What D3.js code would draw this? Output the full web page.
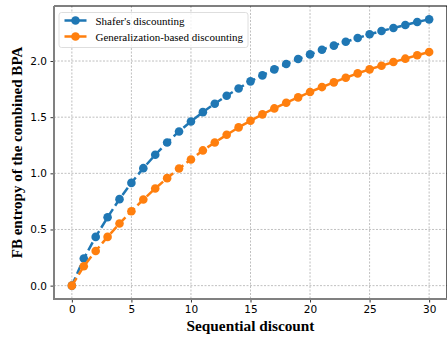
<!DOCTYPE html>
<html>
<head>
<meta charset="utf-8">
<script src="https://cdn.jsdelivr.net/npm/d3@7"></script>
<style>
  body { margin: 0; background: #fff; }
  svg { display: block; }
</style>
</head>
<body>
<script>
// Data
const steps = d3.range(0, 31);
const shafer = [0, 0.241, 0.434, 0.609, 0.770, 0.915, 1.046, 1.165, 1.275, 1.373, 1.462,
  1.545, 1.620, 1.691, 1.756, 1.819, 1.872, 1.926, 1.973, 2.018, 2.059,
  2.101, 2.137, 2.172, 2.205, 2.238, 2.267, 2.294, 2.321, 2.348, 2.371];
const generalization = [0, 0.172, 0.309, 0.434, 0.553, 0.663, 0.767, 0.865, 0.957, 1.043, 1.123,
  1.204, 1.275, 1.343, 1.409, 1.468, 1.525, 1.578, 1.629, 1.676, 1.724,
  1.768, 1.810, 1.851, 1.890, 1.926, 1.958, 1.991, 2.021, 2.051, 2.080];
const seriesNames = ["Shafer's discounting", 'Generalization-based discounting'];
const xTicks = [0, 5, 10, 15, 20, 25, 30];
const yTicks = [0, 0.5, 1.0, 1.5, 2.0];

const W = 447, H = 340;
const margin = { top: 6, right: 0, bottom: 41, left: 54 };
const width = W - margin.left - margin.right;
const height = H - margin.top - margin.bottom;

const svg = d3.select('body').append('svg')
  .attr('width', W)
  .attr('height', H);

const g = svg.append('g')
  .attr('transform', `translate(${margin.left},${margin.top})`);

const x = d3.scaleLinear().domain([-1.5, 31.5]).range([0, width]);
const y = d3.scaleLinear().domain([-0.119, 2.49]).range([height, 0]);

// grid
g.append('g').selectAll('line').data(xTicks).join('line')
  .attr('x1', d => x(d)).attr('x2', d => x(d))
  .attr('y1', 0).attr('y2', height)
  .attr('stroke', '#b0b0b0').attr('stroke-width', 0.8)
  .attr('stroke-dasharray', '2,1.5');
g.append('g').selectAll('line').data(yTicks).join('line')
  .attr('y1', d => y(d)).attr('y2', d => y(d))
  .attr('x1', 0).attr('x2', width)
  .attr('stroke', '#b0b0b0').attr('stroke-width', 0.8)
  .attr('stroke-dasharray', '2,1.5');

// series
const colors = ['#1f77b4', '#ff7f0e'];
const series = [shafer, generalization];
const line = d3.line().x((d, i) => x(steps[i])).y(d => y(d));

series.forEach((vals, k) => {
  g.append('path')
    .datum(vals)
    .attr('fill', 'none')
    .attr('stroke', colors[k])
    .attr('stroke-width', 2.5)
    .attr('stroke-dasharray', '9,4')
    .attr('d', line);
  g.append('g').selectAll('circle').data(vals).join('circle')
    .attr('cx', (d, i) => x(steps[i]))
    .attr('cy', d => y(d))
    .attr('r', 4.3)
    .attr('fill', colors[k]);
});

// axes
const xAxis = g.append('g')
  .attr('transform', `translate(0,${height})`)
  .call(d3.axisBottom(x).tickValues(xTicks).tickSize(3.5).tickPadding(3.5).tickFormat(d3.format('d')));
const yAxis = g.append('g')
  .call(d3.axisLeft(y).tickValues(yTicks).tickSize(3.5).tickPadding(3.5).tickFormat(d3.format('.1f')));
[xAxis, yAxis].forEach(a => {
  a.select('.domain').remove();
  a.selectAll('text').attr('font-family', 'DejaVu Sans').attr('font-size', 10.5).attr('fill', '#000');
  a.selectAll('line').attr('stroke', '#000').attr('stroke-width', 0.8);
});

// spines
g.append('line').attr('x1', 0).attr('x2', width).attr('y1', 0).attr('y2', 0)
  .attr('stroke', '#000').attr('stroke-width', 1.2);
g.append('line').attr('x1', width).attr('x2', width).attr('y1', 0).attr('y2', height)
  .attr('stroke', '#000').attr('stroke-width', 1.2);
g.append('line').attr('x1', 0).attr('x2', 0).attr('y1', 0).attr('y2', height + 1)
  .attr('stroke', '#808080').attr('stroke-width', 2);
g.append('line').attr('x1', -1).attr('x2', width).attr('y1', height).attr('y2', height)
  .attr('stroke', '#808080').attr('stroke-width', 2);

// axis labels
svg.append('text')
  .attr('x', margin.left + x(15)).attr('y', 330.5)
  .attr('text-anchor', 'middle')
  .attr('font-family', 'Liberation Serif').attr('font-weight', 'bold').attr('font-size', 15.3)
  .text('Sequential discount');
svg.append('text')
  .attr('transform', 'translate(22,152.5) rotate(-90)')
  .attr('text-anchor', 'middle')
  .attr('font-family', 'Liberation Serif').attr('font-weight', 'bold').attr('font-size', 15)
  .text('FB entropy of the combined BPA');

// legend
const legend = svg.append('g').attr('transform', 'translate(59,12.5)');
legend.append('rect')
  .attr('width', 189).attr('height', 35).attr('rx', 2.5)
  .attr('fill', '#fff').attr('fill-opacity', 0.8)
  .attr('stroke', '#d6d6d6').attr('stroke-width', 0.8);
seriesNames.forEach((name, k) => {
  const row = legend.append('g').attr('transform', `translate(0,${8 + k * 16})`);
  row.append('line').attr('x1', 5.5).attr('x2', 27.5)
    .attr('stroke', colors[k]).attr('stroke-width', 2.5).attr('stroke-dasharray', '9,4');
  row.append('circle').attr('cx', 16.5).attr('r', 4.3).attr('fill', colors[k]);
  row.append('text').attr('x', 36.5).attr('y', 4)
    .attr('font-family', 'Liberation Serif').attr('font-size', 11)
    .text(name);
});
</script>
</body>
</html>
